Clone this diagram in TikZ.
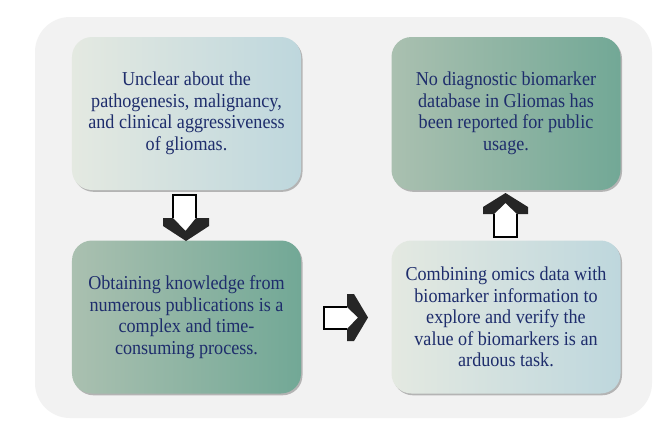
\documentclass[tikz,border=0pt]{standalone}
\usepackage{fontspec}
\setmainfont[FakeStretch=0.92]{Liberation Serif}
\usetikzlibrary{shadows}
\definecolor{bgc}{RGB}{242,242,242}
\definecolor{txt}{RGB}{30,45,108}
\definecolor{lA}{RGB}{228,233,225}
\definecolor{lB}{RGB}{190,215,221}
\definecolor{dA}{RGB}{170,192,176}
\definecolor{dB}{RGB}{114,168,150}
\begin{document}
\begin{tikzpicture}[x=1bp,y=-1bp,
  card/.style={rounded corners=20bp, minimum width=229bp, minimum height=153bp,
    inner sep=0pt, text=txt, align=center,
    font=\fontsize{19.7bp}{21.5bp}\selectfont,
    drop shadow={shadow xshift=1.5bp, shadow yshift=-1.8bp, fill=black!45, opacity=0.6}},
  lightcard/.style={card, left color=lA, right color=lB},
  darkcard/.style={card, left color=dA, right color=dB},
  shaftline/.style={draw=black, line width=1.5bp, line join=miter},
  chevron/.style={fill=black!85}]
\useasboundingbox (0,0) rectangle (669,431);
\fill[white] (0,0) rectangle (669,431);
\fill[bgc, rounded corners=35bp] (35,17) rectangle (652,418);

\node[lightcard] (tl) at (186.5,113.5) {\raisebox{-1.5bp}{\parbox{229bp}{\centering Unclear about the\\pathogenesis, malignancy,\\and clinical aggressiveness\\of gliomas.}}};
\node[darkcard] (tr) at (506,113.5) {\raisebox{-1.5bp}{\parbox{229bp}{\centering No diagnostic biomarker\\database in Gliomas has\\been reported for public\\usage.}}};
\node[darkcard] (bl) at (186.5,317) {\raisebox{-1.5bp}{\parbox{229bp}{\centering Obtaining knowledge from\\numerous publications is a\\complex and time-\\consuming process.}}};
\node[lightcard] (br) at (506,317) {\raisebox{-1.5bp}{\parbox{229bp}{\centering Combining omics data with\\biomarker information to\\explore and verify the\\value of biomarkers is an\\arduous task.}}};

% down arrow (tl -> bl)
\fill[white] (173,195) -- (196,195) -- (196,218) -- (185,231) -- (173,218) -- cycle;
\draw[shaftline] (173,218) -- (173,195) -- (196,195) -- (196,218);
\fill[chevron] (163,218) -- (173,218) -- (185.5,231) -- (196,218) -- (209,218)
  -- (209,226) -- (186,241) -- (163,226) -- cycle;

% right arrow (bl -> br)
\fill[white] (324,307) -- (347,307) -- (358,317.5) -- (347,329) -- (324,329) -- cycle;
\draw[shaftline] (347,307) -- (324,307) -- (324,329) -- (347,329);
\fill[chevron] (347,294) -- (354,294) -- (368,317.5) -- (354,341) -- (347,341)
  -- (347,329) -- (358,317.5) -- (347,307) -- cycle;

% up arrow (br -> tr)
\fill[white] (494,237) -- (517,237) -- (517,214) -- (505.5,203) -- (494,214) -- cycle;
\draw[shaftline] (494,214) -- (494,237) -- (517,237) -- (517,214);
\fill[chevron] (483,214) -- (494,214) -- (505.5,203) -- (517,214) -- (528,214)
  -- (528,207) -- (505.5,193) -- (483,207) -- cycle;
\end{tikzpicture}
\end{document}
